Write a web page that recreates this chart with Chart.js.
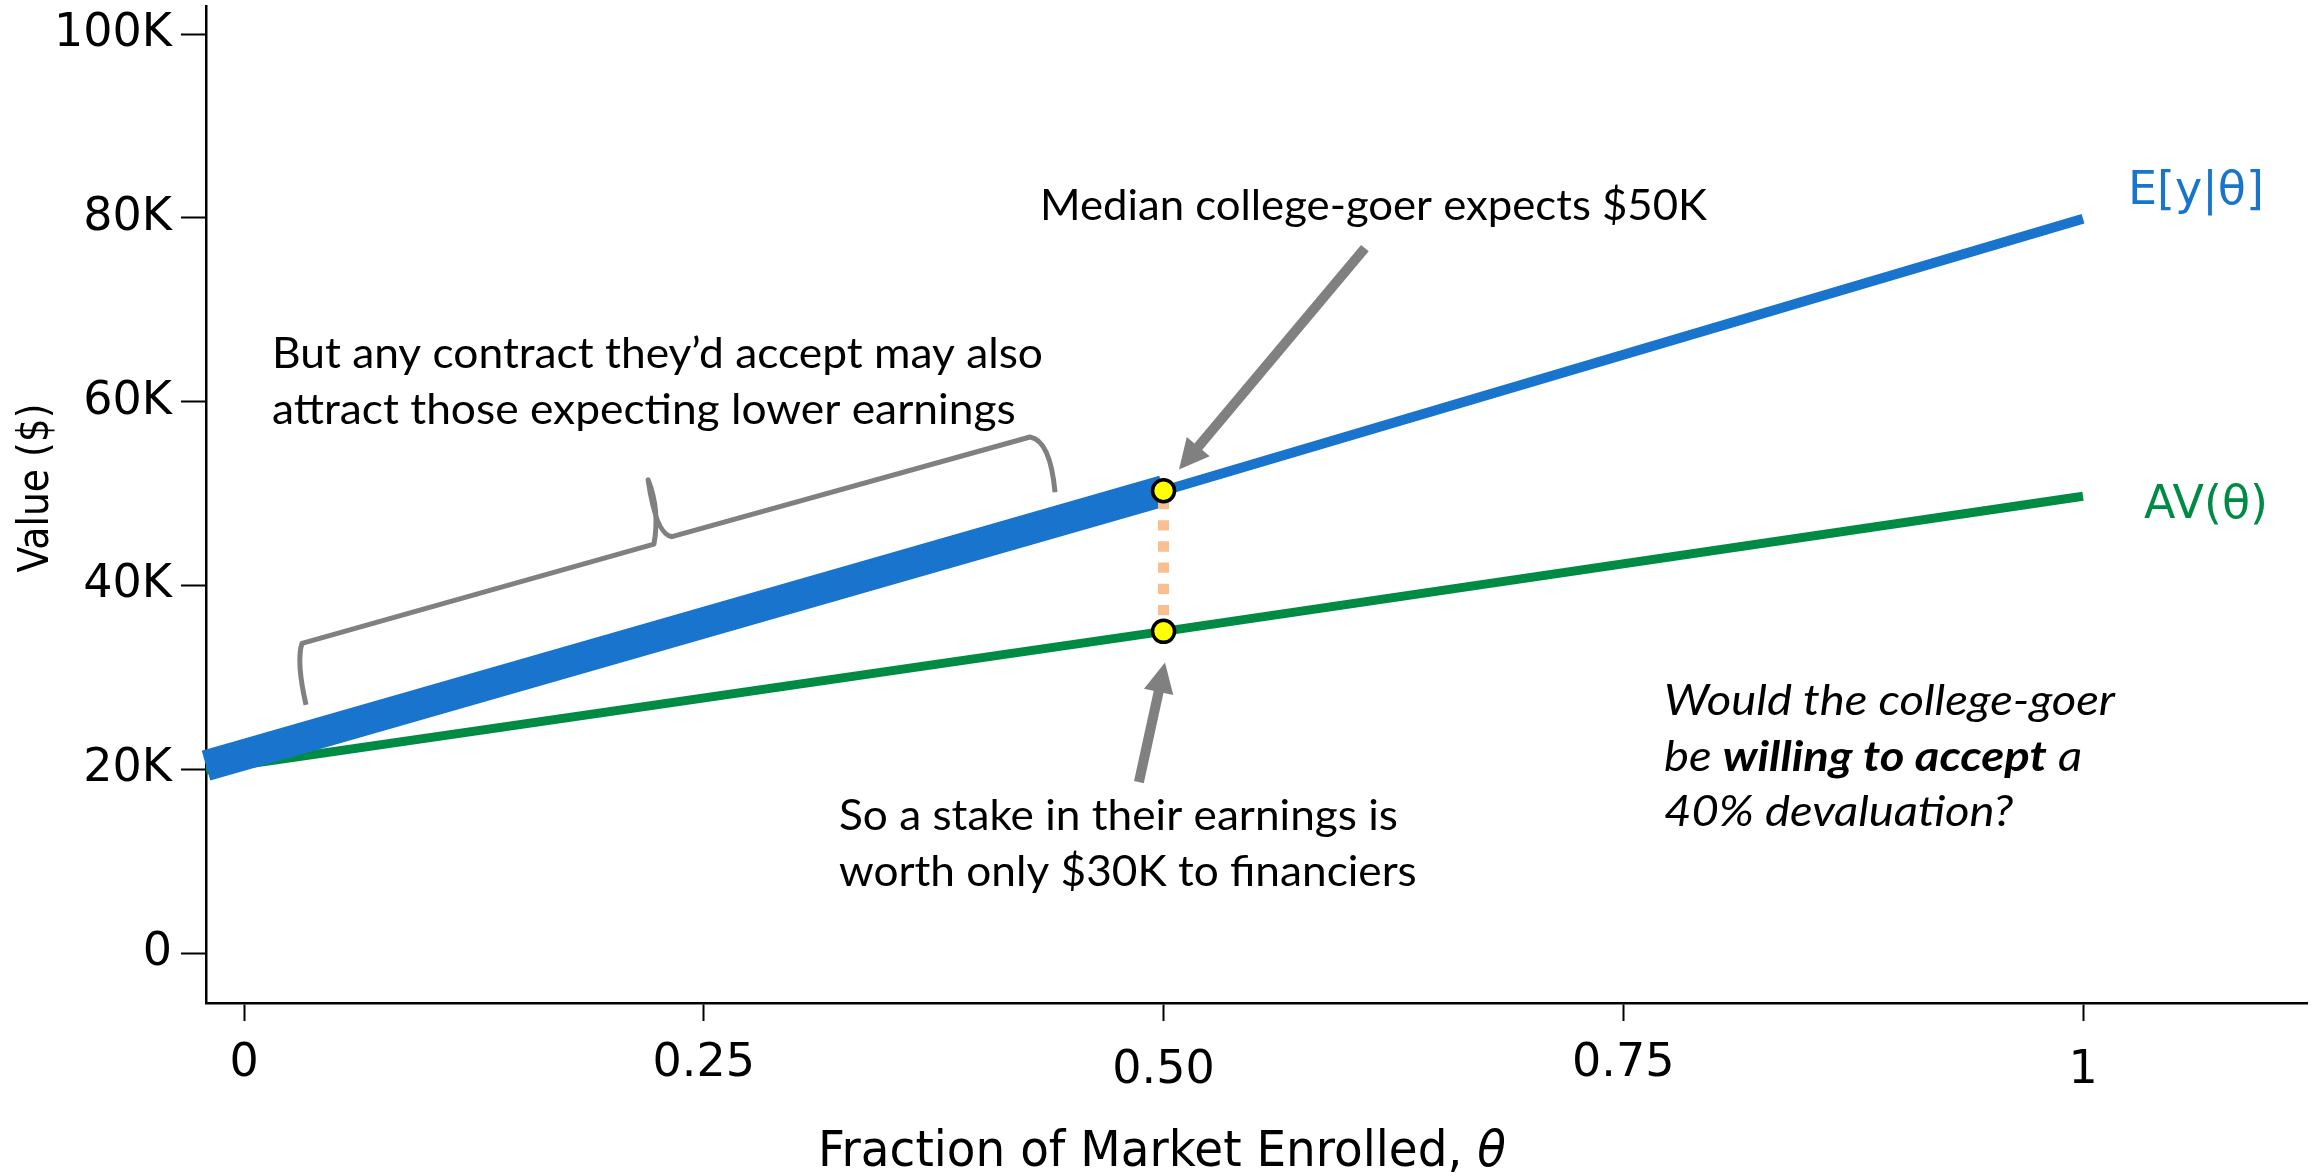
<!DOCTYPE html>
<html>
<head>
<meta charset="utf-8">
<script src="https://cdn.jsdelivr.net/npm/chart.js@4.4.1/dist/chart.umd.min.js"></script>
<style>
  html, body { margin: 0; padding: 0; background: #fff; }
  #wrap { width: 2320px; height: 1173px; }
</style>
</head>
<body>
<div id="wrap"><canvas id="chart"></canvas></div>
<script>
// fraction of market enrolled (first point sits on the y axis)
const theta = [-0.0207, 0.5, 1];
// expected earnings E[y|θ] and what financiers value it at AV(θ), in $
const expectedEarnings = [20400, 50300, 79900];
const averageValue = [19900, 35000, 49700];

const xTicks = [0, 0.25, 0.5, 0.75, 1];
const xTickLabels = ["0", "0.25", "0.50", "0.75", "1"];
const xTickDrop = [0, 0, 7, 0, 7]; // some labels sit a little lower
const yTicks = [0, 20000, 40000, 60000, 80000, 100000];
const yTickLabels = ["0", "20K", "40K", "60K", "80K", "100K"];

const BLUE = "#1874CD";
const GREEN = "#008B45";
const GREY = "#808080";
const PEACH = "#F9BF8F";
const NOTE_FONT = "Lato";
const AXIS_FONT = "'DejaVu Sans'";

const pts = (xs, ys) => xs.map((x, i) => ({ x: x, y: ys[i] }));

// annotation shapes, in data units (θ, $)
const arrows = [
  { from: [0.6095, 76700], to: [0.5084, 52600] },
  { from: [0.4866, 18600], to: [0.5008, 31600] },
];
// curly brace over the pooled part of E[y|θ]
const brace = [
  ["M", 0.0337, 27000],
  ["Q", 0.0283, 31700, 0.0315, 33700],
  ["L", 0.2229, 44500],
  ["Q", 0.2262, 48200, 0.2197, 51500],
  ["Q", 0.2240, 45500, 0.2327, 45300],
  ["L", 0.4274, 56150],
  ["Q", 0.4383, 55800, 0.4410, 50150],
];

// text blocks: lines are lists of [text, style] runs
const notes = [
  { x: 1040, y: 220, width: 667, style: "normal",
    lines: [[["Median college-goer expects $50K", ""]]] },
  { x: 272, y: 368, width: 771, style: "normal",
    lines: [[["But any contract they\u2019d accept may also", ""]],
            [["attract those expecting lower earnings", ""]]] },
  { x: 839, y: 830, width: 559, style: "normal",
    lines: [[["So a stake in their earnings is", ""]],
            [["worth only $30K to financiers", ""]]] },
  { x: 1664, y: 715, width: 451, style: "italic",
    lines: [[["Would the college-goer", ""]],
            [["be ", ""], ["willing to accept", "bold"], [" a", ""]],
            [["40% devaluation?", ""]]] },
];

function drawArrow(ctx, x0, y0, x1, y1) {
  const len = Math.hypot(x1 - x0, y1 - y0);
  const ux = (x1 - x0) / len, uy = (y1 - y0) / len;
  const headL = 30, headW = 30;
  const bx = x1 - ux * headL, by = y1 - uy * headL;
  ctx.strokeStyle = GREY;
  ctx.fillStyle = GREY;
  ctx.lineWidth = 10;
  ctx.lineCap = "butt";
  ctx.beginPath();
  ctx.moveTo(x0, y0);
  ctx.lineTo(bx + ux * 2, by + uy * 2);
  ctx.stroke();
  ctx.beginPath();
  ctx.moveTo(x1, y1);
  ctx.lineTo(bx - uy * headW / 2, by + ux * headW / 2);
  ctx.lineTo(bx + uy * headW / 2, by - ux * headW / 2);
  ctx.closePath();
  ctx.fill();
}

function runsWidth(ctx, runs, base, size) {
  let w = 0;
  for (const [txt, st] of runs) {
    ctx.font = base + " " + st + " " + size + "px " + NOTE_FONT;
    w += ctx.measureText(txt).width;
  }
  return w;
}

function drawNote(ctx, note) {
  const size = 42, lineH = 55.5;
  const sx = note.width / runsWidth(ctx, note.lines[0], note.style, size);
  note.lines.forEach((runs, i) => {
    ctx.save();
    ctx.translate(note.x, note.y + i * lineH);
    ctx.scale(sx, 1);
    let x = 0;
    for (const [txt, st] of runs) {
      ctx.font = note.style + " " + st + " " + size + "px " + NOTE_FONT;
      ctx.fillText(txt, x, 0);
      x += ctx.measureText(txt).width;
    }
    ctx.restore();
  });
}

// text squeezed/stretched to a given width, centred on (cx, cy)
function fitText(ctx, txt, cx, cy, width) {
  const w = ctx.measureText(txt).width;
  ctx.save();
  ctx.translate(cx, cy);
  ctx.scale(width / w, 1);
  ctx.textAlign = "center";
  ctx.fillText(txt, 0, 0);
  ctx.restore();
}

const annotate = {
  id: "annotate",
  afterDatasetsDraw(chart) {
    const { ctx, scales } = chart;
    const X = v => scales.x.getPixelForValue(v);
    const Y = v => scales.y.getPixelForValue(v);
    ctx.save();

    arrows.forEach(a => drawArrow(ctx, X(a.from[0]), Y(a.from[1]), X(a.to[0]), Y(a.to[1])));

    ctx.strokeStyle = GREY;
    ctx.lineWidth = 5;
    ctx.lineJoin = "round";
    ctx.lineCap = "butt";
    ctx.beginPath();
    for (const s of brace) {
      if (s[0] === "M") ctx.moveTo(X(s[1]), Y(s[2]));
      else if (s[0] === "L") ctx.lineTo(X(s[1]), Y(s[2]));
      else ctx.quadraticCurveTo(X(s[1]), Y(s[2]), X(s[3]), Y(s[4]));
    }
    ctx.stroke();

    ctx.fillStyle = "#000";
    ctx.textAlign = "left";
    ctx.textBaseline = "alphabetic";
    notes.forEach(n => drawNote(ctx, n));

    // x tick labels
    ctx.font = "46px " + AXIS_FONT;
    ctx.textAlign = "center";
    xTicks.forEach((v, i) => ctx.fillText(xTickLabels[i], X(v), 1076 + xTickDrop[i]));

    // series labels
    ctx.textAlign = "left";
    ctx.font = "46px " + AXIS_FONT;
    ctx.fillStyle = BLUE;
    ctx.fillText("E[y|\u03b8]", 2128, 204);
    ctx.fillStyle = GREEN;
    ctx.fillText("AV(\u03b8)", 2144, 518);

    // x axis title, θ in italics
    ctx.fillStyle = "#000";
    const main = "Fraction of Market Enrolled, ";
    ctx.font = "49px " + AXIS_FONT;
    const w1 = ctx.measureText(main).width;
    ctx.font = "italic 49px " + AXIS_FONT;
    const w2 = ctx.measureText("\u03b8").width;
    const k = 688 / (w1 + w2);
    ctx.save();
    ctx.translate(818, 1166);
    ctx.scale(k, 1);
    ctx.font = "49px " + AXIS_FONT;
    ctx.fillText(main, 0, 0);
    ctx.font = "italic 49px " + AXIS_FONT;
    ctx.fillText("\u03b8", w1, 0);
    ctx.restore();

    // y axis title
    ctx.translate(37, 488);
    ctx.rotate(-Math.PI / 2);
    ctx.font = "42px " + AXIS_FONT;
    ctx.textBaseline = "middle";
    fitText(ctx, "Value ($)", 0, 0, 169);
    ctx.restore();
  }
};

new Chart(document.getElementById("chart"), {
  type: "line",
  data: {
    datasets: [
      {
        label: "median",
        type: "scatter",
        data: [
          { x: theta[1], y: expectedEarnings[1] },
          { x: theta[1], y: averageValue[1] },
        ],
        pointRadius: 11,
        pointBorderWidth: 3.5,
        pointBackgroundColor: "#FFFF00",
        pointBorderColor: "#000",
        showLine: false,
        order: 0,
      },
      {
        label: "gap",
        data: [
          { x: theta[1], y: expectedEarnings[1] },
          { x: theta[1], y: averageValue[1] },
        ],
        borderColor: PEACH,
        borderWidth: 11,
        borderDash: [10.3, 10.9],
        borderDashOffset: 13,
        order: 1,
      },
      {
        label: "E[y|θ]",
        data: pts(theta.slice(1), expectedEarnings.slice(1)),
        borderColor: BLUE,
        borderWidth: 10,
        order: 2,
      },
      {
        label: "E[y|θ] pooled",
        data: pts(theta.slice(0, 2), expectedEarnings.slice(0, 2)),
        borderColor: BLUE,
        borderWidth: 31,
        borderCapStyle: "butt",
        clip: false,
        order: 3,
      },
      {
        label: "AV(θ)",
        data: pts(theta, averageValue),
        borderColor: GREEN,
        borderWidth: 9,
        order: 4,
      },
    ],
  },
  options: {
    responsive: true,
    maintainAspectRatio: false,
    devicePixelRatio: 1,
    animation: false,
    events: [],
    elements: { point: { radius: 0 }, line: { tension: 0 } },
    layout: { autoPadding: false, padding: { top: 6, right: 13, bottom: 0, left: 0 } },
    plugins: { legend: { display: false }, tooltip: { enabled: false } },
    scales: {
      x: {
        type: "linear",
        min: -0.0207,
        max: 1.1218,
        afterBuildTicks: s => { s.ticks = xTicks.map(v => ({ value: v })); },
        afterFit: s => { s.height = 170; s.paddingLeft = 0; s.paddingRight = 0; },
        ticks: { display: false },
        grid: { drawOnChartArea: false, drawTicks: true, tickLength: 18, tickColor: "#000", tickWidth: 2 },
        border: { display: true, color: "#000", width: 2.5 },
      },
      y: {
        min: -5440,
        max: 103050,
        afterBuildTicks: s => { s.ticks = yTicks.map(v => ({ value: v })); },
        afterFit: s => { s.width = 206; s.paddingTop = 0; s.paddingBottom = 0; },
        ticks: {
          callback: (v, i) => yTickLabels[i],
          font: { family: "DejaVu Sans", size: 46 },
          color: "#000",
          padding: 9,
        },
        grid: { drawOnChartArea: false, drawTicks: true, tickLength: 25, tickColor: "#000", tickWidth: 2 },
        border: { display: true, color: "#000", width: 2.5 },
      },
    },
  },
  plugins: [annotate],
});
</script>
</body>
</html>
